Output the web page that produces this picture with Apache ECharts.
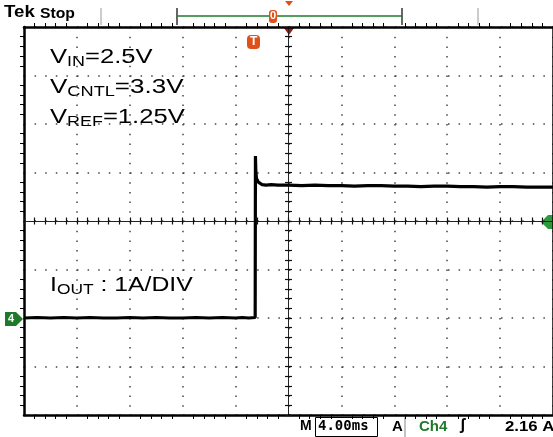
<!DOCTYPE html>
<html><head><meta charset="utf-8">
<script src="https://cdn.jsdelivr.net/npm/echarts@6/dist/echarts.min.js"></script>
<style>html,body{margin:0;padding:0;background:#fff;overflow:hidden}#c{width:553px;height:437px}</style>
</head><body><div id="c"></div>
<script>
// time axis (ms), 4 ms/div, trigger at 0
const timeMs = [-20,-19,-18,-17,-16,-15,-14,-13,-12,-11,-10,-9,-8,-7,-6,-5,-4,-3.5,-3,-2.52,-2.5,-2.47,-2.42,-2.36,-2.28,-2.15,-2.0,-1.7,-1.3,-0.8,0,1,2,3,4,5,6,7,8,9,10,11,12,13,14,15,16,17,18,19,20];
// Ch4 current (A), 1 A/div, ground marker at 0 A
const currentA = [0.00,0.01,0.00,0.01,0.00,0.01,0.00,0.00,0.01,0.00,0.01,0.00,0.00,0.01,0.00,0.01,0.00,0.01,0.00,0.01,3.34,3.02,2.88,2.84,2.80,2.77,2.75,2.74,2.75,2.74,2.74,2.73,2.74,2.73,2.73,2.72,2.73,2.73,2.72,2.72,2.71,2.72,2.72,2.71,2.71,2.70,2.71,2.71,2.70,2.70,2.70];
const xTicks = {min:-20, max:20, interval:4};
const yTicks = {min:-2, max:6, interval:1};
const annotations = ['{a|V}{s|IN}{a|=2.5V}','{a|V}{s|CNTL}{a|=3.3V}','{a|V}{s|REF}{a|=1.25V}'];
const ioutLabel = '{a|I}{s|OUT}{a| : 1A/DIV}';
const statusText = {timebase:'4.00ms', source:'Ch4', level:'2.16 A'};

const chart = echarts.init(document.getElementById('c'), null, {renderer:'canvas'});
const G = {left:24, top:27, width:530, height:388};
const ff = '"Liberation Sans", Arial, sans-serif';
const rich = {
  a:{fontSize:20, fontFamily:ff, color:'#000', lineHeight:24},
  s:{fontSize:14, fontFamily:ff, color:'#000', lineHeight:12, verticalAlign:'bottom'}
};
const borderAxis = () => ({
  axisLine:{show:true, onZero:false, lineStyle:{color:'#000', width:2.5}},
  axisTick:{show:false},
  minorTick:{show:true, splitNumber:5, length:4, lineStyle:{color:'#000', width:1}},
  axisLabel:{show:false}
});
const crossTick = (inside) => ({
  axisLine:{show:true, onZero:true, lineStyle:{color:'#222', width:1}},
  axisTick:{show:true, inside:inside, length:3.5, lineStyle:{color:'#111', width:1.2}},
  axisLabel:{show:false}, splitLine:{show:false}
});
const opt = {
  animation:false,
  backgroundColor:'#fff',
  grid:[Object.assign({}, G), Object.assign({}, G), Object.assign({}, G)],
  xAxis:[
    Object.assign({type:'value', gridIndex:0, position:'bottom', min:xTicks.min, max:xTicks.max, interval:xTicks.interval,
      splitLine:{show:true, lineStyle:{color:'#444', width:1.5, type:[1.5,8.2]}}}, borderAxis()),
    Object.assign({type:'value', gridIndex:0, position:'top', min:xTicks.min, max:xTicks.max, interval:xTicks.interval, splitLine:{show:false}}, borderAxis()),
    Object.assign({type:'value', gridIndex:1, min:-5, max:5, interval:0.2}, crossTick(true)),
    Object.assign({type:'value', gridIndex:2, min:-5, max:5, interval:0.2}, crossTick(false))
  ],
  yAxis:[
    Object.assign({type:'value', gridIndex:0, position:'left', min:yTicks.min, max:yTicks.max, interval:yTicks.interval,
      splitLine:{show:true, lineStyle:{color:'#444', width:1.5, type:[1.5,9.1]}}}, borderAxis()),
    Object.assign({type:'value', gridIndex:0, position:'right', min:yTicks.min, max:yTicks.max, interval:yTicks.interval, splitLine:{show:false}}, borderAxis()),
    Object.assign({type:'value', gridIndex:1, min:-4, max:4, interval:0.2}, crossTick(true)),
    Object.assign({type:'value', gridIndex:2, min:-4, max:4, interval:0.2}, crossTick(false))
  ],
  series:[{
    type:'line', xAxisIndex:0, yAxisIndex:0,
    data: timeMs.map((t,i)=>[t, currentA[i]]),
    showSymbol:false, symbol:'none',
    lineStyle:{color:'#000', width:3.2},
    z:10
  },
  {type:'line', xAxisIndex:2, yAxisIndex:2, data:[], showSymbol:false},
  {type:'line', xAxisIndex:3, yAxisIndex:3, data:[], showSymbol:false}],
  graphic:[
    // header
    {type:'text', left:4, top:4, scaleX:1.1, style:{text:'Tek', font:'bold 17px '+ff, fill:'#000'}},
    {type:'text', left:40, top:6, scaleX:1.05, style:{text:'Stop', font:'bold 15px '+ff, fill:'#000'}},
    {type:'line', shape:{x1:101, y1:8, x2:101, y2:25}, style:{stroke:'#999', lineWidth:1}},
    {type:'line', shape:{x1:478, y1:8, x2:478, y2:25}, style:{stroke:'#999', lineWidth:1}},
    {type:'line', shape:{x1:177, y1:8, x2:177, y2:25}, style:{stroke:'#000', lineWidth:1.2}},
    {type:'line', shape:{x1:402, y1:8, x2:402, y2:25}, style:{stroke:'#000', lineWidth:1.2}},
    {type:'line', shape:{x1:177, y1:16, x2:402, y2:16}, style:{stroke:'#1e7a2a', lineWidth:1.5}},
    {type:'rect', shape:{x:269, y:10, width:8, height:13, r:3}, style:{fill:'#e0501a'}},
    {type:'text', left:270, top:10, style:{text:'0', font:'bold 11px '+ff, fill:'#fff'}},
    {type:'polygon', shape:{points:[[285,1],[293,1],[289,6]]}, style:{fill:'#e0501a'}},
    {type:'polygon', shape:{points:[[284,28],[294,28],[289,35]]}, style:{fill:'#a01818'}},
    {type:'rect', shape:{x:247, y:35, width:13, height:14, r:4}, style:{fill:'#e0501a'}},
    {type:'text', left:250, top:36, style:{text:'T', font:'bold 12px '+ff, fill:'#fff'}},
    // ground marker ch4
    {type:'polygon', shape:{points:[[5,312],[16,312],[23,319],[16,326],[5,326]]}, style:{fill:'#1e7a2a'}},
    {type:'text', left:8, top:313, style:{text:'4', font:'bold 11px '+ff, fill:'#fff'}},
    // trigger level marker
    {type:'polygon', shape:{points:[[541,222],[548,215],[553,215],[553,229],[548,229]]}, style:{fill:'#2a9a3a'}},
    // annotations
    {type:'text', left:50, top:47, scaleX:1.28, style:{text:annotations[0], rich:rich}},
    {type:'text', left:50, top:77, scaleX:1.3, style:{text:annotations[1], rich:rich}},
    {type:'text', left:50, top:107, scaleX:1.28, style:{text:annotations[2], rich:rich}},
    {type:'text', left:50, top:275, scaleX:1.24, style:{text:ioutLabel, rich:rich}},
    // status bar
    {type:'text', left:300, top:419, style:{text:'M', font:'bold 14px '+ff, fill:'#000'}},
    {type:'rect', shape:{x:315.5, y:417.5, width:62, height:19}, style:{fill:'none', stroke:'#000', lineWidth:1}},
    {type:'text', left:318, top:419, style:{text:statusText.timebase, font:'bold 14px "DejaVu Sans Mono", monospace', fill:'#000'}},
    {type:'text', left:392, top:419, style:{text:'A', font:'bold 15px '+ff, fill:'#000'}},
    {type:'line', shape:{x1:405, y1:417, x2:405, y2:437}, style:{stroke:'#888', lineWidth:1}},
    {type:'text', left:419, top:419, style:{text:statusText.source, font:'bold 15px '+ff, fill:'#1e7a2a'}},
    {type:'text', left:460, top:418, style:{text:'ʃ', font:'bold 16px '+ff, fill:'#000'}},
    {type:'text', left:505, top:419, scaleX:1.12, style:{text:statusText.level, font:'bold 15px '+ff, fill:'#000'}}
  ]
};
chart.setOption(opt);
</script></body></html>
